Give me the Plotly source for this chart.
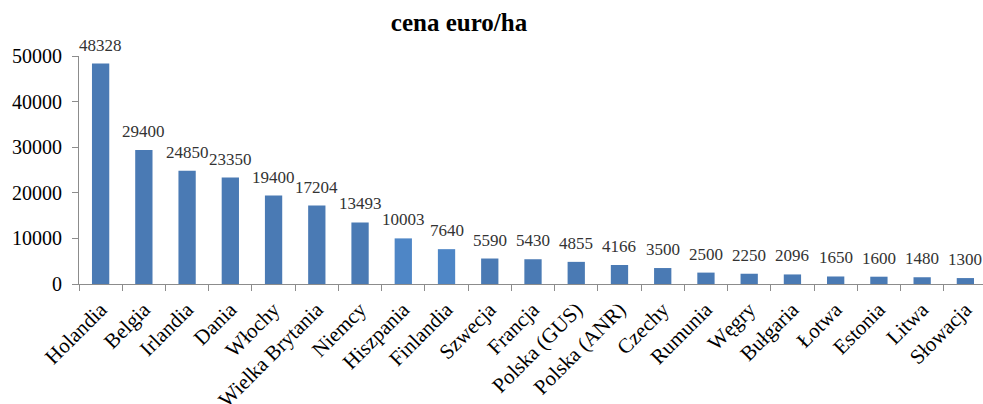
import plotly.graph_objects as go

countries = ["Holandia", "Belgia", "Irlandia", "Dania", "Włochy", "Wielka Brytania",
             "Niemcy", "Hiszpania", "Finlandia", "Szwecja", "Francja", "Polska (GUS)",
             "Polska (ANR)", "Czechy", "Rumunia", "Węgry", "Bułgaria", "Łotwa",
             "Estonia", "Litwa", "Słowacja"]
prices = [48328, 29400, 24850, 23350, 19400, 17204, 13493, 10003, 7640, 5590, 5430,
          4855, 4166, 3500, 2500, 2250, 2096, 1650, 1600, 1480, 1300]
y_ticks = [0, 10000, 20000, 30000, 40000, 50000]

base_color = "#4A7AB4"
light_color = "#4E86C6"
colors = [light_color if c in ("Hiszpania", "Finlandia") else base_color for c in countries]

fig = go.Figure()
fig.add_trace(go.Bar(
    x=countries, y=prices, marker=dict(color=colors, line=dict(width=0)),
    hoverinfo="x+y",
))

for c, v in zip(countries, prices):
    fig.add_annotation(x=c, y=v, text=str(v), showarrow=False, yanchor="bottom",
                       yshift=7, font=dict(family="Liberation Serif", size=17, color="#333333"))

W, H = 983, 404
left, right = 79, 983
fig.update_layout(
    width=W, height=H,
    margin=dict(l=left, r=W - right, t=56, b=404 - 284, autoexpand=False),
    paper_bgcolor="white", plot_bgcolor="white",
    bargap=0.6,
    showlegend=False,
    title=dict(text="<b>cena euro/ha</b>", x=459 / W, xanchor="center", y=1 - 22 / H,
               yanchor="middle", font=dict(family="Liberation Serif", size=25, color="black")),
    font=dict(family="Liberation Serif", color="black"),
)
fig.update_xaxes(
    type="category", automargin=False,
    range=[-0.5, 20.5 - (987 - 983) / 43.2],
    showline=True, linecolor="#8C8C8C", linewidth=1,
    ticks="outside", tickson="boundaries", ticklen=6, tickcolor="#8C8C8C",
    ticklabelstandoff=4,
    tickangle=-45, tickfont=dict(family="Liberation Serif", size=21, color="black"),
    showgrid=False, zeroline=False,
)
fig.update_yaxes(
    automargin=False,
    range=[0, 50000], tickvals=y_ticks, ticktext=[str(t) for t in y_ticks],
    showline=True, linecolor="#8C8C8C", linewidth=1,
    ticks="outside", ticklen=6, tickcolor="#8C8C8C",
    ticklabelstandoff=6,
    tickfont=dict(family="Liberation Serif", size=20, color="black"),
    showgrid=False, zeroline=False,
)

fig.write_html("out.html", config={"displayModeBar": False},
               post_script="document.body.style.margin='0';document.body.style.padding='0';")
